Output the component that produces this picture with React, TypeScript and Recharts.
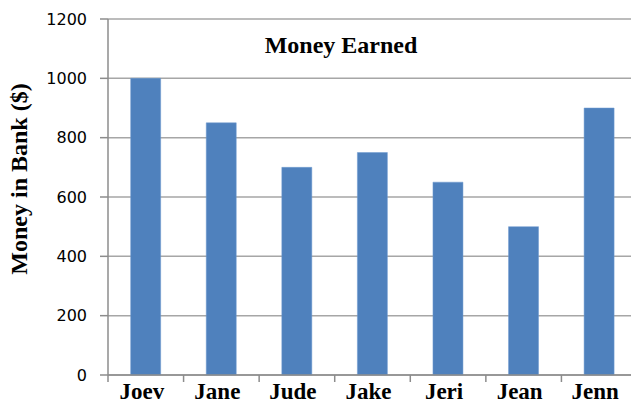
import React from 'react';
import { BarChart, Bar, XAxis, YAxis, CartesianGrid, Label } from 'recharts';

const names = ['Joev', 'Jane', 'Jude', 'Jake', 'Jeri', 'Jean', 'Jenn'];
const money = [1000, 850, 700, 750, 650, 500, 900];
const yTicks = [0, 200, 400, 600, 800, 1000, 1200];

const data = names.map((name, i) => ({ name, money: money[i] }));

const serif = '"Liberation Serif", "Times New Roman", serif';
const sans = '"DejaVu Sans", Verdana, sans-serif';

// Category tick: bold name under the bar plus a tick mark on the left boundary of the band
const NameTick = (props: any) => {
  const { x, y, payload } = props;
  const half = payload && payload.offset ? payload.offset : 37.8;
  return (
    <g>
      <line x1={x - half} y1={y - 8} x2={x - half} y2={y - 1} stroke="#8C8C8C" strokeWidth={1.5} />
      <text
        x={x - 4}
        y={y + 16}
        textAnchor="middle"
        fontFamily={serif}
        fontWeight="bold"
        fontSize={23}
        fill="#000"
      >
        {payload.value}
      </text>
    </g>
  );
};

const YTitle = () => {
  const x = 27;
  const y = 179;
  return (
    <text
      x={x}
      y={y}
      transform={`rotate(-90, ${x}, ${y})`}
      textAnchor="middle"
      fontFamily={serif}
      fontWeight="bold"
      fontSize={24}
      fill="#000"
    >
      Money in Bank ($)
    </text>
  );
};

export default function App() {
  return (
    <div style={{ position: 'absolute', left: 0, top: 0, width: 631, height: 404, overflow: 'hidden', background: '#fff' }}>
      <BarChart
        width={637}
        height={404}
        data={data}
        margin={{ top: 19, right: 0, left: 0, bottom: 0 }}
        barCategoryGap="30%"
      >
        <CartesianGrid vertical={false} stroke="#A6A6A6" strokeWidth={1.5} />
        <XAxis
          dataKey="name"
          tickLine={false}
          axisLine={{ stroke: '#8C8C8C', strokeWidth: 1.5 }}
          tick={<NameTick />}
          interval={0}
          height={29}
        />
        <YAxis
          width={108}
          domain={[0, 1200]}
          ticks={yTicks}
          interval={0}
          tickSize={8}
          tickMargin={13}
          axisLine={{ stroke: '#8C8C8C', strokeWidth: 1.5 }}
          tickLine={{ stroke: '#8C8C8C', strokeWidth: 1.5 }}
          tick={{ fontFamily: sans, fontSize: 16, fill: '#000' }}
        >
          <Label content={<YTitle />} />
        </YAxis>
        <Bar dataKey="money" fill="#4F81BD" stroke="#6F9AD0" strokeWidth={0.5} isAnimationActive={false} />
        <text
          x={341}
          y={53}
          textAnchor="middle"
          fontFamily={serif}
          fontWeight="bold"
          fontSize={24}
          fill="#000"
        >
          Money Earned
        </text>
      </BarChart>
    </div>
  );
}
